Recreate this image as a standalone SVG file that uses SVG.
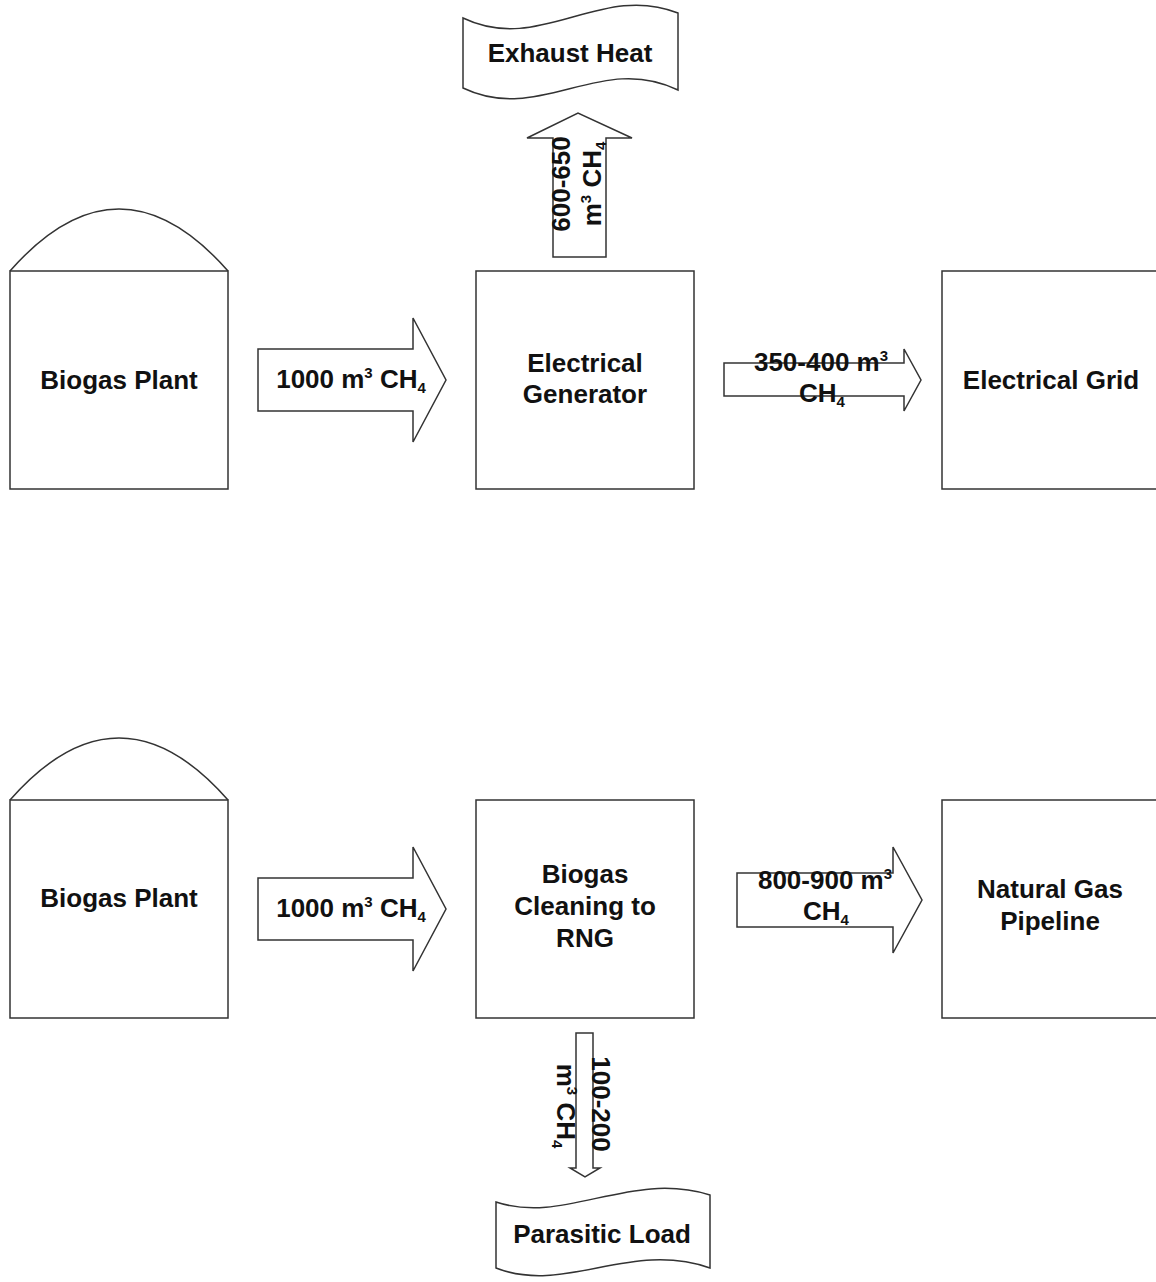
<svg xmlns="http://www.w3.org/2000/svg" width="1156" height="1282" viewBox="0 0 1156 1282">
<style>
.s{fill:#fff;stroke:#333;stroke-width:1.5}
.t{font-family:"Liberation Sans",Arial,sans-serif;font-weight:bold;font-size:26px;fill:#111;text-anchor:middle}
.sup{font-size:15px}
</style>
<rect width="1156" height="1282" fill="#fff"/>
<g id="connectors">
<path class="s" d="M258,349 H413 V318 L446,380 L413,442 V411 H258 Z"/>
<path class="s" d="M553,257 V138 H527 L578,113 L632,138 H606 V257 Z"/>
<path class="s" d="M724,363 H904 V349 L921,380 L904,411 V396 H724 Z"/>
<path class="s" d="M258,878 H413 V847 L446,909 L413,971 V940 H258 Z"/>
<path class="s" d="M737,873 H893 V847 L922,900 L893,953 V927 H737 Z"/>
<path class="s" d="M576,1033 H593 V1168 H600 L585,1177 L570,1168 H576 Z"/>
</g>
<g id="biogas-plant-1">
<path class="s" d="M10,271 Q119,147 228,271"/>
<rect class="s" x="10" y="271" width="218" height="218"/>
<text class="t" x="119" y="389">Biogas Plant</text>
</g>
<g id="electrical-generator">
<rect class="s" x="476" y="271" width="218" height="218"/>
<text class="t" x="585" y="372">Electrical</text>
<text class="t" x="585" y="403">Generator</text>
</g>
<g id="electrical-grid">
<rect class="s" x="942" y="271" width="218" height="218"/>
<text class="t" x="1051" y="389">Electrical Grid</text>
</g>
<g id="exhaust-heat">
<path class="s" d="M463,18 C540,55 600,-18 678,13 V90 C600,52 540,125 463,88 Z"/>
<text class="t" x="570" y="62">Exhaust Heat</text>
</g>
<g id="biogas-plant-2">
<path class="s" d="M10,800 Q119,676 228,800"/>
<rect class="s" x="10" y="800" width="218" height="218"/>
<text class="t" x="119" y="907">Biogas Plant</text>
</g>
<g id="biogas-cleaning">
<rect class="s" x="476" y="800" width="218" height="218"/>
<text class="t" x="585" y="883">Biogas</text>
<text class="t" x="585" y="915">Cleaning to</text>
<text class="t" x="585" y="947">RNG</text>
</g>
<g id="natural-gas-pipeline">
<rect class="s" x="942" y="800" width="218" height="218"/>
<text class="t" x="1050" y="898">Natural Gas</text>
<text class="t" x="1050" y="930">Pipeline</text>
</g>
<g id="parasitic-load">
<path class="s" d="M496,1202 C565,1225 630,1170 710,1195 V1268 C630,1240 565,1295 496,1268 Z"/>
<text class="t" x="602" y="1243">Parasitic Load</text>
</g>
<g id="labels">
<text class="t" x="351" y="388">1000 m<tspan class="sup" dy="-10">3</tspan><tspan dy="10"> CH</tspan><tspan class="sup" dy="5">4</tspan></text>
<text class="t" x="351" y="917">1000 m<tspan class="sup" dy="-10">3</tspan><tspan dy="10"> CH</tspan><tspan class="sup" dy="5">4</tspan></text>
<text class="t" x="821" y="371">350-400 m<tspan class="sup" dy="-10">3</tspan></text>
<text class="t" x="822" y="402">CH<tspan class="sup" dy="5">4</tspan></text>
<text class="t" x="825" y="889">800-900 m<tspan class="sup" dy="-10">3</tspan></text>
<text class="t" x="826" y="920">CH<tspan class="sup" dy="5">4</tspan></text>
<g transform="translate(570,184) rotate(-90)">
<text class="t" x="0" y="0">600-650</text>
<text class="t" x="0" y="31">m<tspan class="sup" dy="-10">3</tspan><tspan dy="10"> CH</tspan><tspan class="sup" dy="5">4</tspan></text>
</g>
<g transform="translate(592,1104) rotate(90)">
<text class="t" x="0" y="0">100-200</text>
<text class="t" x="2" y="35">m<tspan class="sup" dy="-10">3</tspan><tspan dy="10"> CH</tspan><tspan class="sup" dy="5">4</tspan></text>
</g>
</g>
</svg>
